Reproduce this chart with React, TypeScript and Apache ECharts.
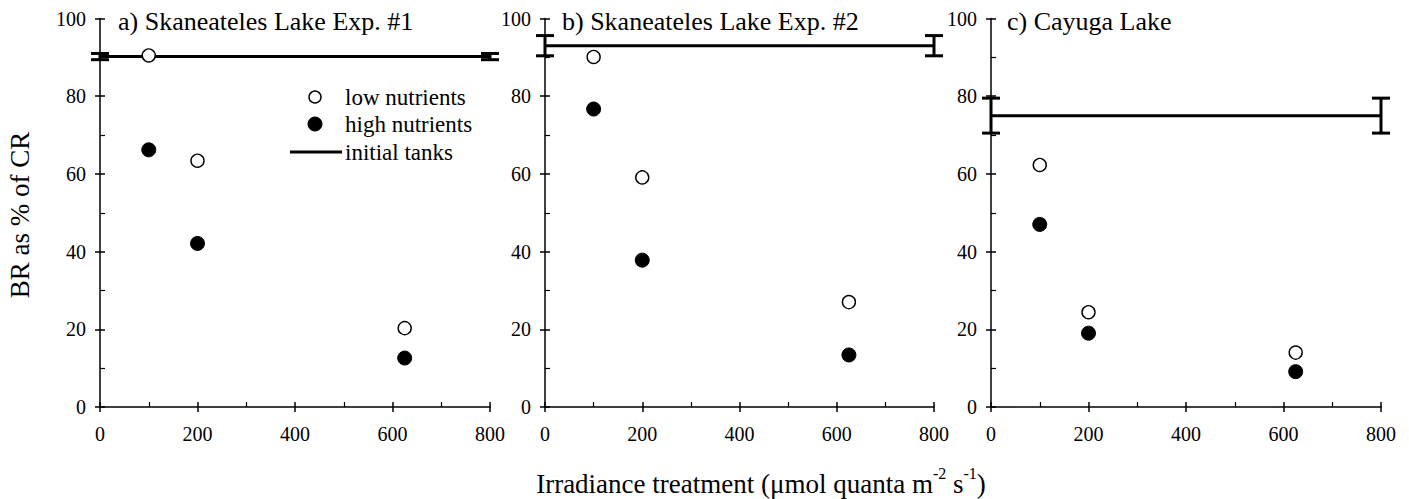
import React, { useEffect, useRef } from "react";
import * as echarts from "echarts";

const panelTitles = ["a) Skaneateles Lake Exp. #1", "b) Skaneateles Lake Exp. #2", "c) Cayuga Lake"];
const treatX = [100, 200, 625];
const lowNutrients = [
  [90.5, 63.4, 20.3],
  [90.1, 59.1, 27.0],
  [62.3, 24.4, 14.0],
];
const highNutrients = [
  [66.2, 42.1, 12.6],
  [76.7, 37.8, 13.4],
  [47.0, 19.0, 9.1],
];
const initialTanks = [90.2, 93.0, 75.0];
const initialErr = [0.8, 2.6, 4.5];
const initialX = [0, 800];
const xTicks = [0, 800, 200];
const yTicks = [0, 100, 20];
const legendNames = ["low nutrients", "high nutrients", "initial tanks"];

const FONT = "Liberation Serif, Times New Roman, serif";

export default function App() {
  const ref = useRef<HTMLDivElement>(null);
  useEffect(() => {
    if (!ref.current) return;
    const chart = echarts.init(ref.current, null, { renderer: "svg" });
    const lefts = [100, 545, 991];
    const widths = [390, 389, 390];
    const top = 18.5;
    const height = 388.5;
    const grids: any[] = [];
    const xAxes: any[] = [];
    const yAxes: any[] = [];
    for (let k = 0; k < 2; k++) {
      for (let i = 0; i < 3; i++) {
        grids.push({ left: lefts[i], top, width: widths[i], height, containLabel: false });
        const main = k === 0;
        xAxes.push({
          type: "value", gridIndex: k * 3 + i, min: xTicks[0], max: xTicks[1], interval: xTicks[2],
          axisLine: { show: main, onZero: false, lineStyle: { color: "#000", width: 1.5 } },
          axisTick: { show: true, inside: main, length: 5, lineStyle: { color: "#000", width: 1.5 } },
          minorTick: { show: main, splitNumber: 2, length: 5, lineStyle: { color: "#000", width: 1.2 } },
          splitLine: { show: false },
          axisLabel: { show: main, color: "#000", fontSize: 20, fontFamily: FONT, margin: 17 },
        });
        yAxes.push({
          type: "value", gridIndex: k * 3 + i, min: yTicks[0], max: yTicks[1], interval: yTicks[2],
          axisLine: { show: main, onZero: false, lineStyle: { color: "#000", width: 1.5 } },
          axisTick: { show: true, inside: main, length: 5, lineStyle: { color: "#000", width: 1.5 } },
          minorTick: { show: main, splitNumber: 2, length: 5, lineStyle: { color: "#000", width: 1.2 } },
          splitLine: { show: false },
          axisLabel: { show: main, color: "#000", fontSize: 20, fontFamily: FONT, margin: 14 },
        });
      }
    }
    const series: any[] = [];
    for (let i = 0; i < 3; i++) {
      series.push({
        name: legendNames[2], type: "line", xAxisIndex: i, yAxisIndex: i,
        symbol: "none", lineStyle: { color: "#000", width: 3 }, itemStyle: { color: "#000" },
        data: initialX.map((x) => [x, initialTanks[i]]), z: 2,
      });
      series.push({
        name: "initial tanks err", type: "custom", xAxisIndex: i, yAxisIndex: i,
        encode: { x: 0, y: [1, 2] }, clip: false, z: 2,
        data: initialX.map((x) => [x, initialTanks[i] - initialErr[i], initialTanks[i] + initialErr[i]]),
        renderItem: (params: any, api: any) => {
          const x = api.value(0);
          const pLo = api.coord([x, api.value(1)]);
          const pHi = api.coord([x, api.value(2)]);
          const hw = 9;
          const st = { stroke: "#000", lineWidth: 3 };
          return {
            type: "group",
            children: [
              { type: "line", shape: { x1: pLo[0], y1: pLo[1], x2: pHi[0], y2: pHi[1] }, style: st },
              { type: "line", shape: { x1: pLo[0] - hw, y1: pLo[1], x2: pLo[0] + hw, y2: pLo[1] }, style: st },
              { type: "line", shape: { x1: pHi[0] - hw, y1: pHi[1], x2: pHi[0] + hw, y2: pHi[1] }, style: st },
            ],
          };
        },
      });
      series.push({
        name: legendNames[0], type: "scatter", xAxisIndex: i, yAxisIndex: i, symbol: "circle", symbolSize: 13,
        itemStyle: { color: "#fff", borderColor: "#000", borderWidth: 1.4, opacity: 1 },
        data: treatX.map((x, j) => [x, lowNutrients[i][j]]), z: 5,
      });
      series.push({
        name: legendNames[1], type: "scatter", xAxisIndex: i, yAxisIndex: i, symbol: "circle", symbolSize: 14,
        itemStyle: { color: "#000", borderColor: "#000", borderWidth: 1, opacity: 1 },
        data: treatX.map((x, j) => [x, highNutrients[i][j]]), z: 5,
      });
    }
    const titleLefts = [118, 562, 1007];
    const titles = panelTitles.map((t, i) => ({
      text: t, left: titleLefts[i], top: 8, padding: 0,
      textStyle: { fontSize: 26, fontWeight: "normal", color: "#000", fontFamily: FONT },
    }));
    const legendRows = [97, 124, 152];
    const legendGraphics: any[] = [
      { type: "circle", shape: { cx: 315, cy: legendRows[0], r: 6 }, style: { fill: "#fff", stroke: "#000", lineWidth: 1.4 } },
      { type: "circle", shape: { cx: 315, cy: legendRows[1], r: 7 }, style: { fill: "#000", stroke: "#000", lineWidth: 1 } },
      { type: "line", shape: { x1: 290, y1: legendRows[2], x2: 342, y2: legendRows[2] }, style: { stroke: "#000", lineWidth: 3 } },
      ...legendNames.map((n, i) => ({
        type: "text", x: 345, y: legendRows[i],
        style: { text: n, fontSize: 23, fontFamily: FONT, fill: "#000", textAlign: "left", textVerticalAlign: "middle" },
      })),
    ];
    chart.setOption({
      animation: false,
      textStyle: { fontFamily: FONT, color: "#000" },
      title: titles,
      grid: grids,
      xAxis: xAxes,
      yAxis: yAxes,
      graphic: [
        ...legendGraphics,
        {
          type: "text", x: 20, y: 215, rotation: Math.PI / 2,
          style: { text: "BR as % of CR", fontSize: 27, fontFamily: FONT, fill: "#000", textAlign: "center", textVerticalAlign: "middle" },
        },
        {
          type: "text", x: 761, y: 481,
          style: {
            text: "{a|Irradiance treatment (μmol quanta m}{s|-2}{a| s}{s|-1}{a|)}",
            textAlign: "center", textVerticalAlign: "middle", fill: "#000",
            rich: {
              a: { fontSize: 27, fontFamily: FONT, fill: "#000", verticalAlign: "bottom", lineHeight: 32 },
              s: { fontSize: 16, fontFamily: FONT, fill: "#000", verticalAlign: "top", lineHeight: 32 },
            },
          },
        },
      ],
      series,
    });
    return () => chart.dispose();
  }, []);
  return <div ref={ref} style={{ position: "fixed", left: 0, top: 0, width: 1409, height: 499, background: "#fff" }} />;
}
